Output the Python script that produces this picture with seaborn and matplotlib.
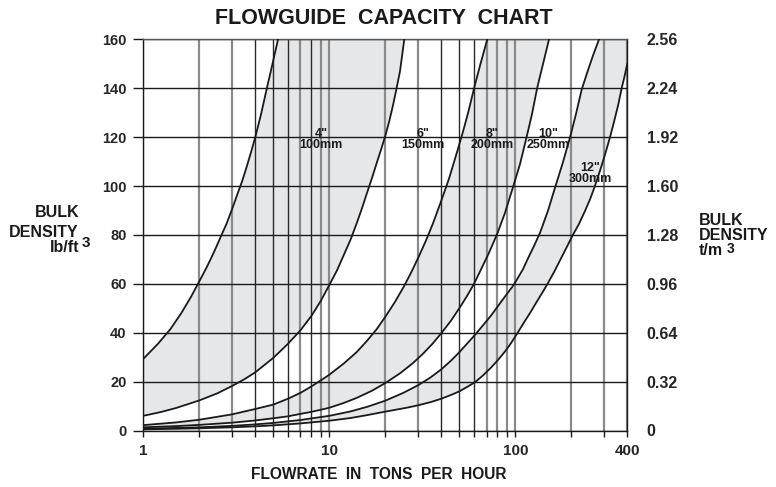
import numpy as np
import pandas as pd
import matplotlib
matplotlib.use("Agg")
import matplotlib.pyplot as plt
import seaborn as sns

sns.set_theme(style="white")
plt.rcParams['font.family'] = ['Liberation Sans', 'DejaVu Sans']
plt.rcParams['font.weight'] = 'bold'

# ---------------- data ----------------
C0_X = [1, 1.2, 1.4, 1.6, 1.8, 2.0, 2.2, 2.4, 2.6, 2.8, 3.0, 3.2, 3.4, 3.6, 3.8, 4.0, 4.3, 4.6, 4.9, 5.3]
C0_Y = [29.3, 35.5, 41.5, 48, 54.5, 61, 67, 73, 79, 84.5, 90.5, 96.5, 102, 108, 114, 120, 129.5, 139.5, 148.5, 160]

C1_X = [1, 1.25, 1.5, 2, 2.5, 3, 3.5, 4, 5, 6, 7, 8, 9, 10, 11, 12, 13, 14, 15, 16, 17, 18, 19, 20,
        21, 22, 23, 24, 25.3]
C1_Y = [6.0, 7.6, 9.2, 12.3, 15.2, 18.2, 21, 23.8, 29.7, 35.5, 41, 46.8, 53, 59.5, 65.5, 72, 78, 84.5,
        91, 97.5, 103.5, 109.5, 115, 120.5, 126.5, 133, 140, 147, 160]

C2_X = [1, 1.5, 2, 3, 4, 5, 6, 7, 8, 9, 10, 12, 14, 16, 18, 20, 22.5, 25, 27.5, 30, 33, 36, 40, 44,
        48, 52, 56, 60, 65, 70.7]
C2_Y = [2.2, 3.3, 4.4, 6.6, 8.8, 10.6, 13.0, 15.4, 18.0, 20.5, 22.8, 27.5, 32, 36.8, 41.5, 46.5, 52.5,
        58.5, 64.5, 70.5, 77.5, 84.5, 94, 103, 112.5, 121.5, 130.5, 140, 150, 160]

C3_X = [1, 1.5, 2, 3, 4, 5, 6, 7, 8, 10, 12, 14, 17, 20, 24, 28, 32, 36, 40, 45, 50, 55, 60, 66, 72,
        80, 88, 97.6, 106, 115, 123, 131, 141, 151.8]
C3_Y = [1.3, 1.8, 2.3, 3.2, 4.1, 5.0, 5.8, 6.8, 7.6, 9.3, 11.3, 13.3, 16.3, 19.4, 23.4, 27.4, 31.5,
        35.6, 39.8, 44.8, 50, 55, 60, 66.5, 72.5, 80.5, 89, 100, 109, 120, 129.5, 140, 150, 160]

C4_X = [1, 1.5, 2, 3, 4, 5, 7, 10, 13, 16, 20, 25, 30, 35, 40, 45, 50, 55, 60.5, 67, 74, 80, 88, 96,
        101, 110, 118, 127, 136, 150, 163, 180, 197, 212, 227.5, 245, 262, 282]
C4_Y = [0.75, 1.05, 1.3, 1.9, 2.5, 3.1, 4.3, 6.0, 7.8, 9.7, 12.2, 15.4, 18.5, 21.7, 25, 28.5, 32,
        35.5, 39, 43, 47, 50.5, 54.8, 58.6, 61.2, 66, 71, 76, 81, 90, 99, 109.5, 120, 129.5, 139.5,
        147, 153.5, 160]

C5_X = [1, 1.5, 2, 3, 4, 5, 7, 10, 13, 16, 18.7, 22, 26, 30, 35, 40, 45, 50, 55, 60.6, 67, 74, 81,
        88, 95, 103, 112, 121, 130, 140, 149, 162, 175, 189, 204, 220, 236, 252, 268, 286, 304,
        323, 340, 357, 373, 387, 400]
C5_Y = [0.5, 0.7, 0.9, 1.3, 1.7, 2.1, 2.9, 4.0, 5.1, 6.3, 7.3, 8.3, 9.3, 10.3, 11.6, 13, 14.5, 16,
        17.8, 19.7, 22.5, 25.7, 29, 32.3, 35.8, 40, 44.5, 48.5, 52.5, 56.5, 60, 65, 70, 75, 80, 84.5,
        89.5, 94.5, 100, 106.5, 113, 120, 126.5, 133, 140, 145, 150]

CURVES = {"c0": (C0_X, C0_Y), "c1": (C1_X, C1_Y), "c2": (C2_X, C2_Y),
          "c3": (C3_X, C3_Y), "c4": (C4_X, C4_Y), "c5": (C5_X, C5_Y)}
SHADED_BANDS = [("c0", "c1"), ("c2", "c3"), ("c4", "c5")]

BAND_LABELS = ['4"\n100mm', '6"\n150mm', '8"\n200mm', '10"\n250mm', '12"\n300mm']
LABEL_X = [9.0, 31.9, 75.0, 150.0, 252.0]
LABEL_Y = [119.0, 119.0, 119.0, 119.0, 105.0]

X_TICKS = [1, 10, 100, 400]
X_TICK_LABELS = ["1", "10", "100", "400"]
X_GRID = [1, 2, 3, 4, 5, 6, 7, 8, 9, 10, 20, 30, 40, 50, 60, 70, 80, 90, 100, 200, 300, 400]
X_GRID_DARK = [4, 5, 6, 8, 40, 50, 60]
Y_TICKS = [0, 20, 40, 60, 80, 100, 120, 140, 160]
Y2_TICKS = [0, 0.32, 0.64, 0.96, 1.28, 1.60, 1.92, 2.24, 2.56]
Y2_TICK_LABELS = ["0", "0.32", "0.64", "0.96", "1.28", "1.60", "1.92", "2.24", "2.56"]

XMIN, XMAX, YMIN, YMAX = 1, 400, 0, 160

# ---------------- figure ----------------
W, H = 776, 487
fig = plt.figure(figsize=(W / 100, H / 100), dpi=100)
ax = fig.add_axes([143.3 / W, (H - 430.5) / H, (627.3 - 143.3) / W, (430.5 - 39.3) / H])
ax.set_xscale("log")
ax.set_xlim(XMIN, XMAX)
ax.set_ylim(YMIN, YMAX)

SHADE = "#e6e7e9"
INK = "#1a1a1a"

for a, b in SHADED_BANDS:
    xa, ya = CURVES[a]
    xb, yb = CURVES[b]
    px = list(xa) + [XMAX] + list(xb)[::-1]
    py = list(ya) + [YMAX] + list(yb)[::-1]
    ax.fill(px, py, color=SHADE, lw=0, zorder=1)

for v in X_GRID:
    if v in X_GRID_DARK:
        ax.axvline(v, color="#2a2a2a", lw=1.0, zorder=1.5)
    else:
        ax.axvline(v, color="#8a8a8a", lw=1.6, zorder=1.5)
for v in Y_TICKS:
    ax.axhline(v, color=INK, lw=1.0, zorder=1.6)

rows = []
for name, (xs, ys) in CURVES.items():
    for x, y in zip(xs, ys):
        rows.append({"x": x, "y": y, "curve": name})
df = pd.DataFrame(rows)
sns.lineplot(data=df, x="x", y="y", units="curve", estimator=None, sort=False,
             color=INK, lw=1.3, ax=ax, zorder=3, legend=False)

for lab, lx, ly in zip(BAND_LABELS, LABEL_X, LABEL_Y):
    ax.text(lx, ly, lab, ha="center", va="center", fontsize=9, fontweight="bold",
            linespacing=0.9, color=INK, zorder=4)

ax.set_xlabel("")
ax.set_ylabel("")
ax.set_xticks(X_GRID, minor=True)
ax.set_xticks(X_TICKS)
ax.set_xticklabels(X_TICK_LABELS)
ax.xaxis.set_minor_formatter(matplotlib.ticker.NullFormatter())
ax.set_yticks(Y_TICKS)
ax.set_yticklabels([str(v) for v in Y_TICKS])
ax.tick_params(axis="x", which="both", direction="out", length=4, width=1,
               color=INK, labelsize=11, pad=6, bottom=True)
ax.tick_params(axis="y", which="major", direction="out", length=7, width=1,
               color=INK, labelsize=10.5, pad=5, left=True)
for lab in ax.get_xticklabels() + ax.get_yticklabels():
    lab.set_fontweight("bold")
for s in ["left", "right", "bottom"]:
    ax.spines[s].set_color(INK)
    ax.spines[s].set_linewidth(1.0)
ax.spines["top"].set_color("#555555")
ax.spines["top"].set_linewidth(1.0)

ax2 = ax.twinx()
ax2.set_ylim(0, 2.56)
ax2.set_yticks(Y2_TICKS)
ax2.set_yticklabels(Y2_TICK_LABELS)
ax2.tick_params(axis="y", length=0, pad=14, labelsize=11.5)
for lab in ax2.get_yticklabels():
    lab.set_fontweight("bold")
for s in ax2.spines.values():
    s.set_visible(False)
ax2.grid(False)


def ftext(px, py, s, **kw):
    fig.text(px / W, 1 - py / H, s, color=INK, fontweight="bold", va="baseline", **kw)


ftext(384, 24, "FLOWGUIDE  CAPACITY  CHART", ha="center", fontsize=15.5)
ftext(379, 479, "FLOWRATE  IN  TONS  PER  HOUR", ha="center", fontsize=11.2)

ftext(79, 217, "BULK", ha="right", fontsize=11.5)
ftext(78, 237, "DENSITY", ha="right", fontsize=11.5)
ftext(79, 252, "lb/ft", ha="right", fontsize=11.5)
ftext(82, 247, "3", ha="left", fontsize=11)

ftext(699, 225, "BULK", ha="left", fontsize=11.5)
ftext(699, 240, "DENSITY", ha="left", fontsize=11.5)
ftext(699, 255, "t/m", ha="left", fontsize=11.5)
ftext(727, 253, "3", ha="left", fontsize=10)

fig.savefig("out.png", dpi=100)
